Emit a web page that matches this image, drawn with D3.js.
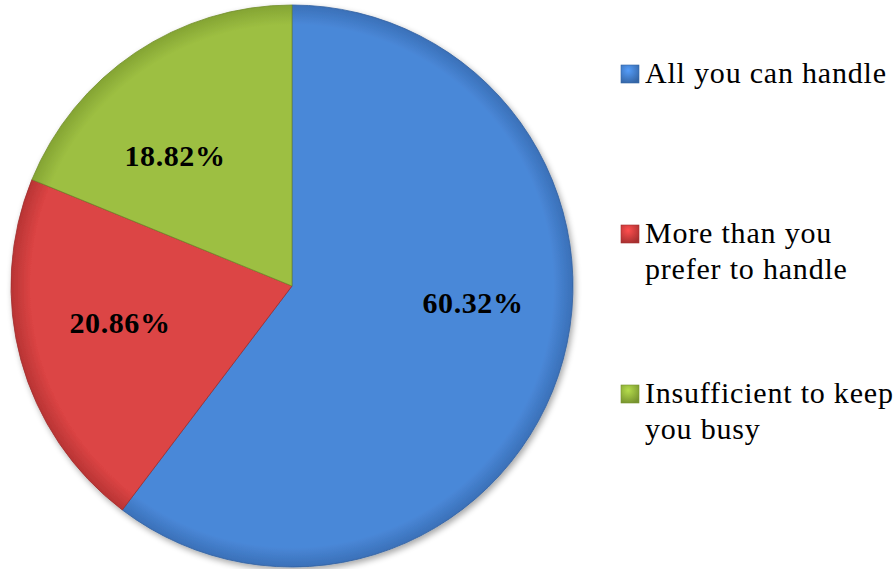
<!DOCTYPE html>
<html><head><meta charset="utf-8">
<script src="https://cdn.jsdelivr.net/npm/d3@7"></script>
<style>html,body{margin:0;padding:0;background:#fff;}svg{display:block;}</style>
</head><body>
<svg id="chart" width="896" height="569"></svg>
<script>
const categories = ["All you can handle", "More than you prefer to handle", "Insufficient to keep you busy"];
const values = [60.32, 20.86, 18.82];
const labels = ["60.32%", "20.86%", "18.82%"];
const legendLines = [["All you can handle"], ["More than you", "prefer to handle"], ["Insufficient to keep", "you busy"]];
const colors = ["#4a88d8", "#dc4444", "#9dbf42"];
const edgeColors = ["#3a70b8", "#b83434", "#84a433"];

const svg = d3.select("#chart");
const cx = 292, cy = 286, r = 281;
const defs = svg.append("defs");
const f = defs.append("filter").attr("id","sh").attr("x","-10%").attr("y","-10%").attr("width","120%").attr("height","120%");
f.append("feGaussianBlur").attr("in","SourceAlpha").attr("stdDeviation",3);
f.append("feOffset").attr("dx",2).attr("dy",3).attr("result","b");
f.append("feComponentTransfer").append("feFuncA").attr("type","linear").attr("slope",0.35);
const m = f.append("feMerge"); m.append("feMergeNode"); m.append("feMergeNode").attr("in","SourceGraphic");

colors.forEach((c,i)=>{
  const g = defs.append("radialGradient").attr("id","g"+i).attr("gradientUnits","userSpaceOnUse")
    .attr("cx",0).attr("cy",0).attr("r",r);
  g.append("stop").attr("offset","0%").attr("stop-color",c);
  g.append("stop").attr("offset","93%").attr("stop-color",c);
  g.append("stop").attr("offset","100%").attr("stop-color",edgeColors[i]);
  const lg = defs.append("radialGradient").attr("id","lg"+i).attr("cx","40%").attr("cy","30%").attr("r","75%");
  lg.append("stop").attr("offset","0%").attr("stop-color",d3.color(c).brighter(0.4));
  lg.append("stop").attr("offset","100%").attr("stop-color",d3.color(edgeColors[i]).darker(0.3));
});

const pie = d3.pie().sort(null).value(d=>d)(values);
const arc = d3.arc().innerRadius(0).outerRadius(r);
const gp = svg.append("g").attr("transform",`translate(${cx},${cy})`).attr("filter","url(#sh)");
gp.selectAll("path").data(pie).join("path")
  .attr("d",arc)
  .attr("fill",(d,i)=>`url(#g${i})`)
  .attr("stroke",(d,i)=>d3.color(edgeColors[i]).darker(0.4))
  .attr("stroke-width",0.8);

const labelPos = [[473,313],[120,333],[175,166]];
svg.append("g").selectAll("text").data(labels).join("text")
  .attr("x",(d,i)=>labelPos[i][0]).attr("y",(d,i)=>labelPos[i][1])
  .attr("text-anchor","middle")
  .attr("font-family","'Liberation Serif', 'Times New Roman', serif")
  .attr("font-weight","bold").attr("font-size",30).attr("letter-spacing",0.6).attr("fill","#000")
  .text(d=>d);

const legBase = [83, 243, 403];
const lg = svg.append("g");
categories.forEach((c,i)=>{
  lg.append("rect").attr("x",621).attr("y",legBase[i]-18).attr("width",18).attr("height",18)
    .attr("fill",`url(#lg${i})`).attr("stroke",d3.color(edgeColors[i]).darker(0.3)).attr("stroke-width",0.6);
  const t = lg.append("text").attr("x",645).attr("y",legBase[i])
    .attr("font-family","'Liberation Serif', 'Times New Roman', serif")
    .attr("font-size",30).attr("letter-spacing",0.8).attr("fill","#000");
  legendLines[i].forEach((ln,j)=>{
    t.append("tspan").attr("x",645).attr("dy",j===0?0:36).text(ln);
  });
});
</script>
</body></html>
